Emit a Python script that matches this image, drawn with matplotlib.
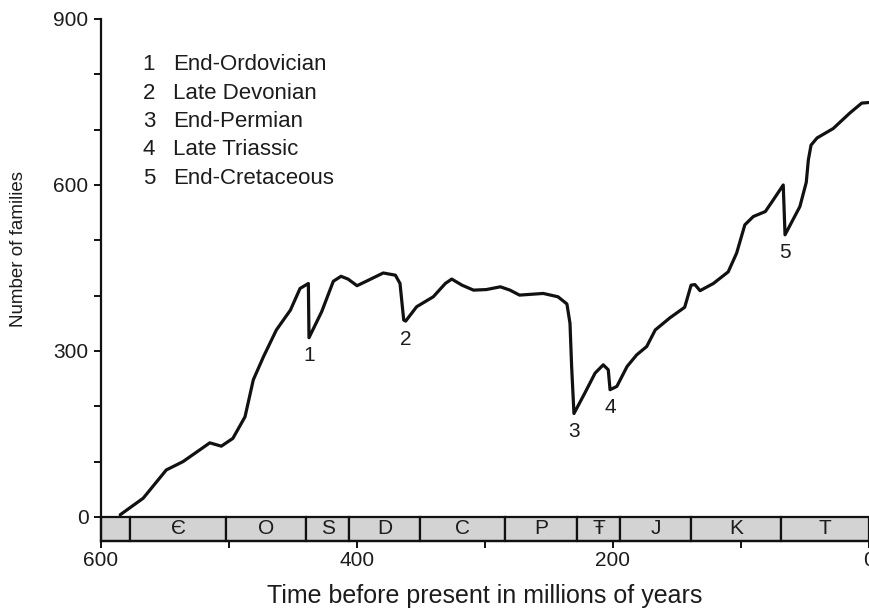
import numpy as np
import matplotlib
matplotlib.use("Agg")
import matplotlib.pyplot as plt
from matplotlib.patches import Rectangle

plt.rcParams['font.family'] = ['Liberation Sans', 'DejaVu Sans']

# ---- data ----
ages = [585, 567, 549, 536, 523, 515, 506, 497, 487.5, 481, 473, 463, 452, 444.5,
        438, 437.5, 427.6, 418.5, 412.5, 407, 400, 391, 379.5, 370, 366.4, 363.5,
        362, 353.4, 340.4, 331, 326, 318, 309, 299, 288, 280.5, 273, 254.5, 243,
        236, 233.6, 232.3, 230.5, 222, 214, 207.6, 203.7, 202.3, 197, 189, 181.5,
        173.7, 167, 155.5, 144, 139, 136, 132, 121.6, 110, 103.4, 97, 90.4, 81,
        74.8, 67, 65.6, 54, 49, 47.4, 45.3, 40.6, 28, 15, 5.7, 0.5]
families = [4, 34, 85, 100, 121, 134, 128, 142, 181, 248, 290, 338, 374, 413,
            422, 324, 371, 426, 435, 430, 418, 428, 441, 437, 422, 356,
            354, 380, 398, 422, 430, 419, 410, 411, 416, 410, 401, 404, 398,
            385, 350, 271, 187, 224, 260, 275, 266, 230, 236, 272, 293,
            308, 338, 360, 379, 419, 420, 409, 422, 443, 477, 528, 543, 552,
            573, 600, 510, 561, 605, 645, 672, 685, 702, 730, 748, 749]

event_numbers = ['1', '2', '3', '4', '5']
event_names = ['End-Ordovician', 'Late Devonian', 'End-Permian', 'Late Triassic', 'End-Cretaceous']
event_ages = [437.5, 362, 230.5, 202.3, 65.6]

period_labels = ['', 'Є', 'O', 'S', 'D', 'C', 'P', 'Ŧ', 'J', 'K', 'T']
period_bounds = [600, 577, 502, 440, 406, 351, 284, 228, 194.5, 139, 69, 0]

x_major = [600, 400, 200, 0]
x_minor = [500, 300, 100]
y_major = [0, 300, 600, 900]
y_minor = [100, 200, 400, 500, 700, 800]

# ---- figure ----
W, H = 870, 610
fig = plt.figure(figsize=(W / 100, H / 100), dpi=100)
ax = fig.add_axes([101 / W, (H - 541) / H, 768 / W, 522 / H])

txt = '#1c1c1c'
bar_bottom = -43.4

ax.set_xlim(600, 0)
ax.set_ylim(bar_bottom, 900)

ax.plot(ages, families, color='#111111', lw=2.3, solid_joinstyle='round',
        solid_capstyle='round', zorder=3)

# geological period bar
for i, lab in enumerate(period_labels):
    a0, a1 = period_bounds[i], period_bounds[i + 1]
    ax.add_patch(Rectangle((a1, bar_bottom), a0 - a1, -bar_bottom,
                           facecolor='#d3d3d3', edgecolor='#111111', lw=1.6,
                           zorder=2, clip_on=False))
    if lab:
        ax.text((a0 + a1) / 2, bar_bottom / 2, lab, ha='center', va='center',
                fontsize=15, color=txt, zorder=4)

# event annotations
ages_arr = np.array(ages)
fam_arr = np.array(families)
for num, ea in zip(event_numbers, event_ages):
    idx = int(np.argmin(np.abs(ages_arr - ea)))
    ax.annotate(num, (ages_arr[idx], fam_arr[idx]), xytext=(0, -13),
                textcoords='offset points', ha='center', va='center',
                fontsize=15, color=txt)

# legend block
y0 = (541 - 65) / 522
dy = 28.3 / 522
for k, (num, name) in enumerate(zip(event_numbers, event_names)):
    ax.text((149 - 101) / 768, y0 - k * dy, num, transform=ax.transAxes,
            ha='center', va='center', fontsize=16, color=txt)
    ax.text((173 - 101) / 768, y0 - k * dy, name, transform=ax.transAxes,
            ha='left', va='center', fontsize=16, color=txt)

# axes styling
for s in ['top', 'right']:
    ax.spines[s].set_visible(False)
for s in ['left', 'bottom']:
    ax.spines[s].set_linewidth(1.6)
    ax.spines[s].set_color('#111111')

ax.set_xticks(x_major)
ax.set_xticklabels([str(v) for v in x_major])
ax.set_xticks(x_minor, minor=True)
ax.set_yticks(y_major)
ax.set_yticklabels([str(v) for v in y_major])
ax.set_yticks(y_minor, minor=True)
ax.tick_params(which='both', direction='out', length=5, width=1.4,
               color='#111111', labelsize=15, labelcolor=txt)
ax.tick_params(axis='x', which='both', pad=2)
ax.tick_params(axis='y', which='both', pad=4)

ax.set_xlabel('Time before present in millions of years', fontsize=18,
              color=txt, labelpad=10)
ax.set_ylabel('Number of families', fontsize=13.5, color=txt)
ax.yaxis.set_label_coords((27 - 101) / 768, (541 - 249) / 522)

fig.savefig('out.png', dpi=100)
